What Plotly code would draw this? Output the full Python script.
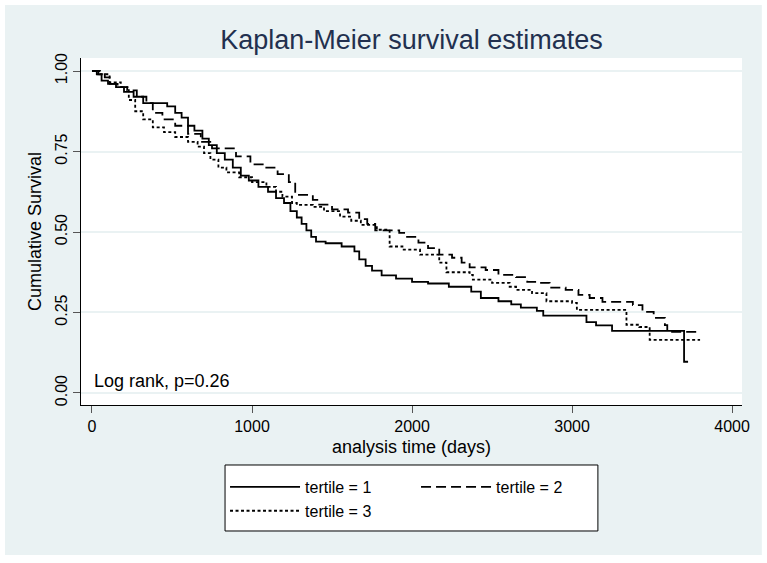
import plotly.graph_objects as go

# Kaplan-Meier step estimates (days, survival)
t1 = [0, 30, 60, 100, 150, 200, 260, 320, 470, 520, 560, 600, 640, 690, 730, 780, 830, 880, 930, 980,
      1040, 1100, 1150, 1200, 1240, 1280, 1310, 1340, 1370, 1400, 1460, 1560, 1640, 1670, 1710, 1750,
      1810, 1900, 2000, 2100, 2230, 2370, 2430, 2540, 2620, 2680, 2780, 2820, 3090, 3150, 3250, 3700, 3725]
s1 = [1.0, 0.99, 0.97, 0.96, 0.95, 0.935, 0.92, 0.90, 0.89, 0.87, 0.855, 0.83, 0.815, 0.79, 0.77, 0.745,
      0.725, 0.70, 0.675, 0.66, 0.64, 0.625, 0.605, 0.59, 0.565, 0.545, 0.525, 0.505, 0.485, 0.47, 0.465,
      0.455, 0.44, 0.415, 0.395, 0.38, 0.365, 0.355, 0.345, 0.34, 0.33, 0.315, 0.295, 0.285, 0.275, 0.265,
      0.255, 0.24, 0.22, 0.21, 0.193, 0.097, 0.097]

t2 = [0, 40, 80, 110, 160, 220, 280, 340, 380, 440, 520, 600, 680, 750, 900, 990, 1080, 1160, 1230, 1270,
      1380, 1420, 1500, 1600, 1670, 1720, 1770, 1920, 1960, 2040, 2100, 2170, 2250, 2310, 2360, 2460,
      2540, 2650, 2720, 2790, 2860, 2960, 3040, 3110, 3190, 3380, 3440, 3510, 3580, 3595, 3790]
s2 = [1.0, 0.99, 0.98, 0.96, 0.95, 0.94, 0.92, 0.90, 0.87, 0.85, 0.83, 0.805, 0.78, 0.76, 0.735, 0.71,
      0.70, 0.68, 0.655, 0.615, 0.60, 0.585, 0.57, 0.56, 0.54, 0.525, 0.505, 0.497, 0.485, 0.467, 0.45,
      0.43, 0.42, 0.405, 0.39, 0.382, 0.367, 0.36, 0.345, 0.342, 0.327, 0.32, 0.305, 0.295, 0.283, 0.273,
      0.252, 0.233, 0.211, 0.19, 0.19]

t3 = [0, 50, 110, 180, 230, 270, 320, 380, 450, 520, 600, 660, 700, 740, 790, 840, 920, 1000, 1090, 1150,
      1190, 1250, 1280, 1380, 1450, 1550, 1620, 1680, 1780, 1860, 1940, 2050, 2170, 2215, 2360, 2380,
      2500, 2610, 2650, 2750, 2840, 3000, 3030, 3340, 3420, 3485, 3800]
s3 = [1.0, 0.99, 0.965, 0.95, 0.91, 0.875, 0.85, 0.825, 0.81, 0.795, 0.78, 0.765, 0.745, 0.725, 0.70,
      0.685, 0.67, 0.655, 0.64, 0.625, 0.61, 0.59, 0.584, 0.578, 0.565, 0.548, 0.535, 0.522, 0.507, 0.455,
      0.445, 0.43, 0.405, 0.375, 0.367, 0.352, 0.342, 0.33, 0.32, 0.31, 0.285, 0.28, 0.258, 0.212, 0.205,
      0.165, 0.165]

x_ticks = [0, 1000, 2000, 3000, 4000]
y_ticks = [0, 0.25, 0.5, 0.75, 1.0]
y_ticklabels = ["0.00", "0.25", "0.50", "0.75", "1.00"]

BG = "#EAF2F3"
FONT = "Liberation Sans, Arial, sans-serif"

fig = go.Figure()
fig.add_trace(go.Scatter(x=t1, y=s1, mode="lines", line_shape="hv", name="tertile = 1",
                         line=dict(color="black", width=1.8), legend="legend"))
fig.add_trace(go.Scatter(x=t2, y=s2, mode="lines", line_shape="hv", name="tertile = 2",
                         line=dict(color="black", width=1.8, dash="10px,5px"), legend="legend"))
fig.add_trace(go.Scatter(x=t3, y=s3, mode="lines", line_shape="hv", name="tertile = 3",
                         line=dict(color="black", width=1.8, dash="3px,2.5px"), legend="legend2"))

fig.add_annotation(x=0, y=0.037, xref="x", yref="y", text="Log rank, p=0.26", showarrow=False,
                   xanchor="left", yanchor="middle", font=dict(size=18, color="black"))

# graph region background and white plot region
fig.add_shape(type="rect", xref="paper", yref="paper", x0=-0.115, x1=1.030, y0=-0.4323, y1=1.1527,
              fillcolor=BG, line_width=0, layer="below")
fig.add_shape(type="rect", xref="paper", yref="paper", x0=0, x1=1, y0=0, y1=1,
              fillcolor="white", line_width=0, layer="below")
# legend frame
fig.add_shape(type="rect", xref="paper", yref="paper", x0=0.2179, x1=0.782, y0=-0.3631, y1=-0.1729,
              fillcolor="white", line=dict(color="black", width=1), layer="below")

legend_style = dict(orientation="h", xanchor="left", yanchor="middle", bgcolor="rgba(0,0,0,0)",
                    borderwidth=0, font=dict(size=16, color="black"), itemwidth=70,
                    entrywidth=106, tracegroupgap=0)

fig.update_layout(
    width=767, height=563,
    margin=dict(l=81, r=25, t=58, b=158),
    paper_bgcolor="white", plot_bgcolor="rgba(0,0,0,0)",
    font=dict(family=FONT, size=16, color="black"),
    title=dict(text="Kaplan-Meier survival estimates", x=0.5, xref="paper", xanchor="center",
               y=1 - 40 / 563, yanchor="middle", font=dict(size=27, color="#22304f")),
    xaxis=dict(range=[-68.7, 4062], tickvals=x_ticks, ticks="outside", ticklen=7, tickcolor="#555",
               showline=True, linecolor="black", linewidth=1, showgrid=False, zeroline=False,
               title=dict(text="analysis time (days)", standoff=6, font=dict(size=18)),
               tickfont=dict(size=16)),
    yaxis=dict(range=[-0.0373, 1.0404], tickvals=y_ticks, ticktext=y_ticklabels, tickangle=-90,
               ticks="outside", ticklen=7, tickcolor="#555",
               showline=True, linecolor="black", linewidth=1, showgrid=True, gridcolor=BG, gridwidth=1.5,
               zeroline=False,
               title=dict(text="Cumulative Survival", standoff=6, font=dict(size=18)),
               tickfont=dict(size=16)),
    legend=dict(x=0.2179, y=-0.236, **legend_style),
    legend2=dict(x=0.2179, y=-0.305, **legend_style),
)

# the page's default body margin would shift the figure by 8px
fig.write_html("out.html", config={"displayModeBar": False},
               post_script="document.body.style.margin='0';")
